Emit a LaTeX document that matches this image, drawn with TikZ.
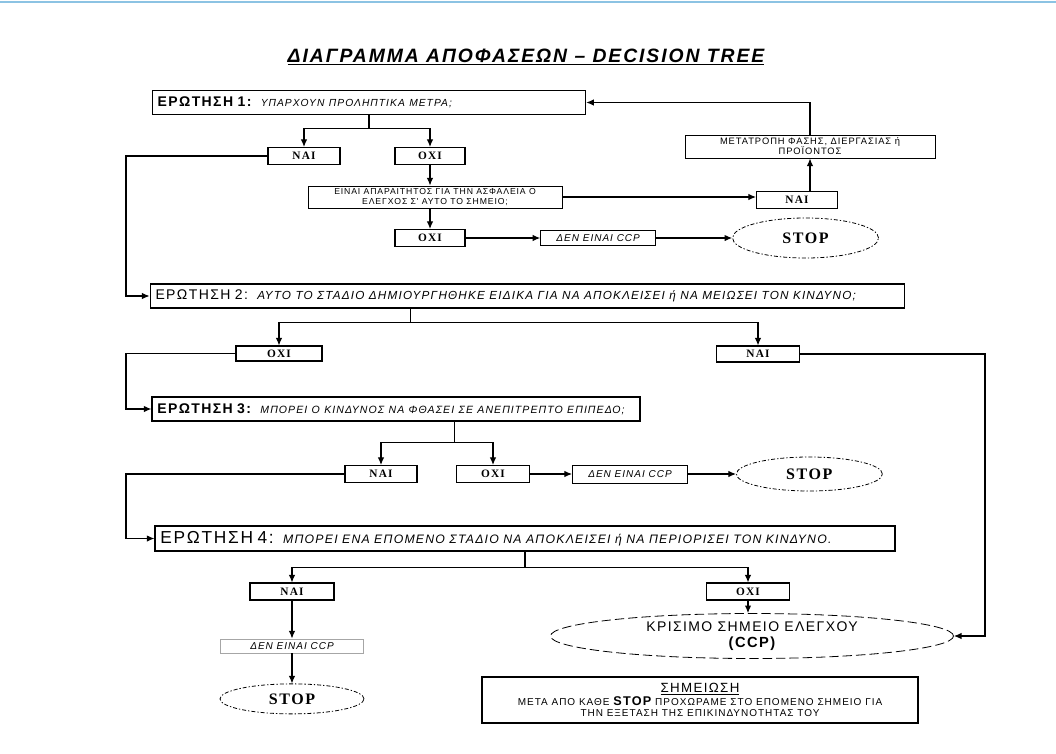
\documentclass[tikz,border=0pt]{standalone}
\usepackage{fontspec}
\setmainfont{Liberation Serif}
\setsansfont{Liberation Sans}
\newfontfamily\widesans[LetterSpace=10]{Liberation Sans}
\newfontfamily\wideserif[LetterSpace=10]{Liberation Serif}
\usetikzlibrary{positioning,arrows.meta,shapes.geometric,calc}
\definecolor{frameblue}{HTML}{8CC3E3}
\tikzset{
  qbox/.style    ={draw,line width=0.9pt,align=left,inner xsep=4pt,inner ysep=1pt,text width=#1,minimum height=17.5pt},
  yn/.style      ={draw,line width=0.8pt,inner sep=1pt,minimum height=12.75pt,font=\wideserif\bfseries\fontsize{8.5}{9}\selectfont},
  memo/.style    ={draw,line width=0.7pt,inner sep=1pt,align=center,font=\widesans\fontsize{6.5}{7}\selectfont},
  dcp/.style     ={draw,line width=0.7pt,inner sep=1pt,minimum width=86.25pt,font=\widesans\itshape\fontsize{7.5}{8}\selectfont},
  stopnode/.style={ellipse,draw,line width=0.6pt,dash pattern=on 3pt off 1.5pt on 1pt off 1.5pt,inner sep=0pt,minimum width=109.5pt,font=\wideserif\bfseries\fontsize{12}{14}\selectfont},
  arr/.style     ={-{Latex[length=2mm,width=1.7mm]},line width=0.8pt},
  wire/.style    ={line width=0.8pt},
}
\newcommand{\qlab}[3][7.7]{\mbox{{\widesans\fontsize{10.5}{12}\selectfont#2}\hspace{0.7em}{\widesans\itshape\fontsize{#1}{9}\selectfont#3}}}

\begin{document}
\begin{tikzpicture}[x=0.75pt,y=-0.75pt]
  \useasboundingbox (0,0) rectangle (1056,753);
  \draw[frameblue,line width=1.5pt] (0,2) -- (1056,2);

  \node[font=\widesans\bfseries\itshape\fontsize{14.5}{17}\selectfont] (title) at (526,57) {\underline{ΔΙΑΓΡΑΜΜΑ ΑΠΟΦΑΣΕΩΝ – DECISION TREE}};

  % question 1
  \node[qbox=317pt] (q1) at (369,102.5) {\qlab{\bfseries ΕΡΩΤΗΣΗ 1:}{ΥΠΑΡΧΟΥΝ ΠΡΟΛΗΠΤΙΚΑ ΜΕΤΡΑ;}};
  \node[yn,minimum width=54pt]   (nai1) at (304,156) {ΝΑΙ};
  \node[yn,minimum width=52.5pt] (oxi1) at (430,156) {ΟΧΙ};
  \node[memo,minimum width=190.5pt,minimum height=16.5pt] (mid) at (435,197) {ΕΙΝΑΙ ΑΠΑΡΑΙΤΗΤΟΣ ΓΙΑ ΤΗΝ ΑΣΦΑΛΕΙΑ Ο\\ΕΛΕΓΧΟΣ Σ' ΑΥΤΟ ΤΟ ΣΗΜΕΙΟ;};
  \node[yn,minimum width=52.5pt] (oxi2) at (430,238) {ΟΧΙ};
  \node[dcp,minimum height=11.25pt,right=56pt of oxi2] (dcp1) {ΔΕΝ ΕΙΝΑΙ CCP};
  \node[stopnode,minimum height=30pt,right=57pt of dcp1] (stop1) {STOP};
  \node[yn,minimum width=60.75pt] (nai2) at (797,200) {ΝΑΙ};
  \node[memo,minimum width=187.5pt,minimum height=17.25pt,font=\widesans\fontsize{7}{7.5}\selectfont] (modify) at (810,146.5) {ΜΕΤΑΤΡΟΠΗ ΦΑΣΗΣ, ΔΙΕΡΓΑΣΙΑΣ ή\\ΠΡΟΪΟΝΤΟΣ};

  % question 2
  \node[qbox=558pt,minimum height=18pt] (q2) at (527.5,296) {\qlab[8.8]{ΕΡΩΤΗΣΗ 2:}{ΑΥΤΟ ΤΟ ΣΤΑΔΙΟ ΔΗΜΙΟΥΡΓΗΘΗΚΕ ΕΙΔΙΚΑ ΓΙΑ ΝΑ ΑΠΟΚΛΕΙΣΕΙ ή ΝΑ ΜΕΙΩΣΕΙ ΤΟΝ ΚΙΝΔΥΝΟ;}};
  \node[yn,minimum width=64.5pt,minimum height=11.25pt] (oxi3) at (279,353.5) {ΟΧΙ};
  \node[yn,minimum width=62.25pt,minimum height=12pt]   (nai3) at (758,354) {ΝΑΙ};

  % question 3
  \node[qbox=358pt,minimum height=18pt] (q3) at (396,409) {\qlab[7.9]{\bfseries ΕΡΩΤΗΣΗ 3:}{ΜΠΟΡΕΙ Ο ΚΙΝΔΥΝΟΣ ΝΑ ΦΘΑΣΕΙ ΣΕ ΑΝΕΠΙΤΡΕΠΤΟ ΕΠΙΠΕΔΟ;}};
  \node[yn,minimum width=54pt]    (nai4) at (381,474) {ΝΑΙ};
  \node[yn,minimum width=54.75pt] (oxi4) at (493,474) {ΟΧΙ};
  \node[dcp,minimum height=13.5pt,right=31.5pt of oxi4] (dcp2) {ΔΕΝ ΕΙΝΑΙ CCP};
  \node[stopnode,minimum height=25.5pt,right=36pt of dcp2] (stop2) {STOP};

  % question 4
  \node[qbox=547pt,minimum height=18.75pt] (q4) at (525,538.5) {\qlab[9.2]{\fontsize{13}{14}\selectfont ΕΡΩΤΗΣΗ 4:}{ΜΠΟΡΕΙ ΕΝΑ ΕΠΟΜΕΝΟ ΣΤΑΔΙΟ ΝΑ ΑΠΟΚΛΕΙΣΕΙ ή ΝΑ ΠΕΡΙΟΡΙΣΕΙ ΤΟΝ ΚΙΝΔΥΝΟ.}};
  \node[yn,minimum width=63pt]    (nai5) at (292,591.5) {ΝΑΙ};
  \node[yn,minimum width=62.25pt] (oxi5) at (748,591.5) {ΟΧΙ};
  \node[dcp,draw=gray!70,minimum width=107.25pt,minimum height=10.5pt,below=28.5pt of nai5] (dcp3) {ΔΕΝ ΕΙΝΑΙ CCP};
  \node[stopnode,minimum width=108pt,minimum height=22.5pt,below=22.5pt of dcp3] (stop3) {STOP};
  \node[ellipse,draw,line width=0.6pt,dash pattern=on 7pt off 3pt,inner sep=0pt,minimum width=302.25pt,minimum height=33.75pt,align=center,
        font=\widesans\fontsize{10.5}{12}\selectfont] (ccp) at (752,636) {ΚΡΙΣΙΜΟ ΣΗΜΕΙΟ ΕΛΕΓΧΟΥ\\{\bfseries\fontsize{11}{12}\selectfont(CCP)}};

  % note
  \node[draw,line width=1.8pt,minimum width=327pt,minimum height=34.5pt,inner sep=1pt,align=center,
        font=\widesans\fontsize{7.5}{8}\selectfont] (note) at (700,700)
        {{\fontsize{10}{11}\selectfont\underline{ΣΗΜΕΙΩΣΗ}}\\ΜΕΤΑ ΑΠΟ ΚΑΘΕ {\bfseries\fontsize{9.5}{9}\selectfont STOP} ΠΡΟΧΩΡΑΜΕ ΣΤΟ ΕΠΟΜΕΝΟ ΣΗΜΕΙΟ ΓΙΑ\\ΤΗΝ ΕΞΕΤΑΣΗ ΤΗΣ ΕΠΙΚΙΝΔΥΝΟΤΗΤΑΣ ΤΟΥ};

  \coordinate (rail)  at (126,0);
  \coordinate (rrail) at (985,0);

  \draw[wire] (q1.south) -- ++(0,14) coordinate (s1);
  \draw[arr] (s1) -| (nai1.north);
  \draw[arr] (s1) -| (oxi1.north);
  \draw[arr] (oxi1.south) -- (oxi1.south |- mid.north);
  \draw[arr] (mid.east) -- (mid.east -| nai2.west);
  \draw[arr] (nai2.north -| modify.south) -- (modify.south);
  \draw[arr] (modify.north) |- (q1.east);
  \draw[arr] (oxi2.north |- mid.south) -- (oxi2.north);
  \draw[arr] (oxi2) -- (dcp1);
  \draw[arr] (dcp1) -- (stop1);
  \draw[arr] (nai1.west) -- (nai1.west -| rail) |- (q2.west);

  \draw[wire] ($(q2.south west)!.345!(q2.south east)$) -- ++(0,14) coordinate (s2);
  \draw[arr] (s2) -| (oxi3.north);
  \draw[arr] (s2) -| (nai3.north);
  \draw[arr] (oxi3.west) -- (oxi3.west -| rail) |- (q3.west);
  \draw[arr] (nai3.east) -- (nai3.east -| rrail) |- (ccp.east);

  \draw[wire] ($(q3.south west)!.62!(q3.south east)$) -- ++(0,21) coordinate (s3);
  \draw[arr] (s3) -| (nai4.north);
  \draw[arr] (s3) -| (oxi4.north);
  \draw[arr] (oxi4) -- (dcp2);
  \draw[arr] (dcp2) -- (stop2);
  \draw[arr] (nai4.west) -- (nai4.west -| rail) |- (q4.west);

  \draw[wire] ($(q4.south west)!.5!(q4.south east)$) -- ++(0,16) coordinate (s4);
  \draw[arr] (s4) -| (nai5.north);
  \draw[arr] (s4) -| (oxi5.north);
  \draw[arr] (nai5) -- (dcp3);
  \draw[arr] (dcp3) -- (stop3);
  \draw[arr] (oxi5.south) -- (oxi5.south |- ccp.north);
\end{tikzpicture}
\end{document}
